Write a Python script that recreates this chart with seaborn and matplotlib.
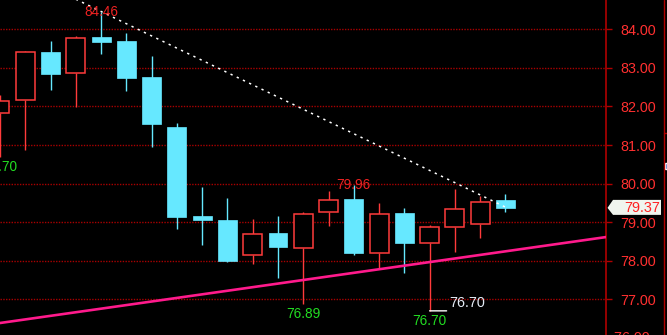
import numpy as np
import pandas as pd
import matplotlib
matplotlib.use("Agg")
import matplotlib.pyplot as plt
import matplotlib.transforms as mtransforms
from matplotlib.patches import Polygon, Rectangle
from matplotlib.lines import Line2D
import seaborn as sns

# ---- data ----
opens  = [81.82, 82.16, 83.40, 82.86, 83.79, 83.69, 82.76, 81.46, 79.16, 79.05, 78.15,
          78.72, 78.33, 79.26, 79.60, 78.20, 79.23, 78.46, 78.87, 78.95, 79.57]
highs  = [82.29, 83.43, 83.69, 83.82, 84.46, 83.90, 83.30, 81.56, 79.91, 79.62, 79.08,
          79.16, 79.26, 79.80, 79.96, 79.49, 79.36, 78.92, 79.85, 79.67, 79.73]
lows   = [80.70, 80.87, 82.42, 81.98, 83.35, 82.39, 80.94, 78.82, 78.40, 77.96, 77.91,
          77.55, 76.89, 78.90, 78.15, 77.81, 77.68, 76.70, 78.22, 78.59, 79.26]
closes = [82.13, 83.40, 82.83, 83.77, 83.66, 82.73, 81.54, 79.13, 79.05, 77.99, 78.69,
          78.35, 79.21, 79.57, 78.20, 79.21, 78.46, 78.87, 79.34, 79.52, 79.37]
ytick_values = [77, 78, 79, 80, 81, 82, 83, 84]
ytick_labels = ["77.00", "78.00", "79.00", "80.00", "81.00", "82.00", "83.00", "84.00"]
down_trend_x = [3.0, 20.0]
down_trend_y = [84.78, 79.39]
up_trend_x = [0.0, 24.0]
up_trend_y = [76.385, 78.615]
high_labels = [(4, 84.46, "84.46"), (14, 79.96, "79.96")]
low_labels = [(0, 80.70, "80.70"), (12, 76.89, "76.89"), (17, 76.70, "76.70")]
marked_low = (17, 76.70, "76.70")
last_price = 79.37
last_label = "79.37"

df = pd.DataFrame({"i": np.arange(len(opens)), "open": opens, "high": highs,
                   "low": lows, "close": closes})

sns.set_style("dark")
plt.rcParams["font.family"] = ["Liberation Sans", "DejaVu Sans"]

RED = "#ff3b3b"
CYAN = "#66e8ff"
GRID = "#a80000"
AX_RED = "#b00000"
GREEN = "#22dd22"
LBL_RED = "#ff3030"

fig = plt.figure(figsize=(6.67, 3.35), dpi=100, facecolor="black")
ax = fig.add_axes([0, 0, 606 / 667, 1])
ax.set_facecolor("black")
ax.set_xlim(0, 23.98)
ax.set_ylim(76.074, 84.76)

# grid
for v in ytick_values:
    ax.axhline(v, color=GRID, lw=1, ls=(0, (1, 1)), zorder=1)

W = 0.75
up = df[df.close >= df.open]
dn = df[df.close < df.open]

# wicks
for _, r in up.iterrows():
    ax.vlines(r.i, r.close, r.high, color=RED, lw=1, zorder=2)
    ax.vlines(r.i, r.low, r.open, color=RED, lw=1, zorder=2)
ax.vlines(dn.i, dn.low, dn.high, color=CYAN, lw=1, zorder=2)

# bodies
ax.bar(up.i, up.close - up.open, bottom=up.open, width=W, facecolor="black",
       edgecolor=RED, linewidth=1.1, zorder=3)
ax.bar(dn.i, dn.open - dn.close, bottom=dn.close, width=W, color=CYAN,
       edgecolor=CYAN, linewidth=0.5, zorder=3)

# trend lines
sns.lineplot(x=down_trend_x, y=down_trend_y, ax=ax, color="white", lw=1.1,
             linestyle=(0, (1.5, 3)), zorder=4)
sns.lineplot(x=up_trend_x, y=up_trend_y, ax=ax, color="#ff1a8c", lw=1.9, zorder=4)

# high / low labels
for i, v, s in high_labels:
    ax.text(i, v, s, color="#ee2222", fontsize=9.8, ha="center", va="center", zorder=5)
for i, v, s in low_labels:
    ax.annotate(s, (i, v), xytext=(0, -3), textcoords="offset pixels", color=GREEN,
                fontsize=9.8, ha="center", va="top", zorder=5)

# marked low with bracket
mi, mv, ms = marked_low
ax.annotate("", (mi, mv), xytext=(17, 0), textcoords="offset pixels",
            arrowprops=dict(arrowstyle="-", color="white", lw=1, shrinkA=0, shrinkB=0))
ax.annotate(ms, (mi, mv), xytext=(20, 8), textcoords="offset pixels", color="#e4ecf6",
            fontsize=10.4, ha="left", va="center", zorder=5)

# right axis
ax.yaxis.tick_right()
ax.set_yticks(ytick_values)
ax.set_yticklabels(ytick_labels)
ax.tick_params(axis="y", colors=AX_RED, labelcolor=LBL_RED, labelsize=10.4,
               length=4, width=1, pad=6, direction="out")
ax.set_xticks([])
for s in ["top", "bottom", "left"]:
    ax.spines[s].set_visible(False)
ax.spines["right"].set_color(AX_RED)
ax.spines["right"].set_linewidth(1.2)
trans = mtransforms.blended_transform_factory(ax.transAxes, ax.transData)
ax.text(1.0, 76.0, "  76.00", transform=trans, clip_on=False, color=LBL_RED,
        fontsize=10.4, ha="left", va="center")

# last price tag (figure pixel coords -> fraction)
H = 335.0
Wf = 667.0
ty = ax.transData.transform((0, last_price))[1]
tag = [(607.5, ty), (613, ty + 8), (661, ty + 8), (661, ty - 7), (613, ty - 7)]
fig.add_artist(Polygon([(x / Wf, y / H) for x, y in tag], closed=True,
                       facecolor="#f0f5ee", edgecolor="none",
                       transform=fig.transFigure, zorder=6))
fig.text(660 / Wf, ty / H, last_label, color="#ff2222", fontsize=10.4,
         ha="right", va="center", zorder=7)

# far right strip
fig.add_artist(Line2D([664 / Wf, 664 / Wf], [0, 1], color=AX_RED, lw=1,
                      transform=fig.transFigure))
fig.add_artist(Line2D([664 / Wf, 1], [(H - 133) / H, (H - 133) / H], color=AX_RED,
                      lw=1, transform=fig.transFigure))
fig.add_artist(Rectangle((665 / Wf, (H - 169) / H), 2 / Wf, 6 / H,
                         facecolor="#2050c0", transform=fig.transFigure))

fig.savefig("out.png", dpi=100, facecolor="black")
